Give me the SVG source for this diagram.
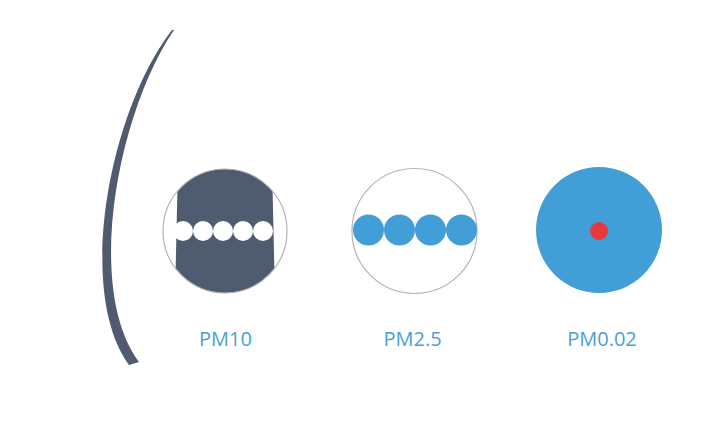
<svg xmlns="http://www.w3.org/2000/svg" width="720" height="423" viewBox="0 0 720 423">
<style>
.ring{fill:none;stroke:#b4b4b4;stroke-width:1.2}
.lbl{font-family:"Open Sans","Noto Sans",sans-serif;font-size:20px;fill:#4a9fd8;text-anchor:middle}
.dark{fill:#4f5b6e}
.blue{fill:#419ed6}
</style>
<defs>
<clipPath id="c1"><circle cx="225" cy="231" r="62"/></clipPath>
</defs>
<rect width="720" height="423" fill="#ffffff"/>
<g id="arc">
<path class="dark" d="M172,30 C110,110 75,290 129,365 L139,362 C84,288 118,112 174,30 Z"/>
</g>
<g id="pm10">
<polygon class="dark" clip-path="url(#c1)" points="178,165 272,165 275,297 175,297"/>
<circle class="ring" cx="225" cy="231" r="62"/>
<g fill="#ffffff">
<circle cx="183" cy="231" r="10"/>
<circle cx="203" cy="231" r="10"/>
<circle cx="223" cy="231" r="10"/>
<circle cx="243" cy="231" r="10"/>
<circle cx="263" cy="231" r="10"/>
</g>
<text class="lbl" x="225.5" y="346">PM10</text>
</g>
<g id="pm25">
<circle class="ring" cx="414.5" cy="231" r="62.5"/>
<circle class="blue" cx="368.5" cy="230" r="15.5"/>
<circle class="blue" cx="399.5" cy="230" r="15.5"/>
<circle class="blue" cx="430.5" cy="230" r="15.5"/>
<circle class="blue" cx="461.5" cy="230" r="15.5"/>
<text class="lbl" x="412.5" y="346">PM2.5</text>
</g>
<g id="pm002">
<circle class="blue" cx="599" cy="230" r="63"/>
<circle cx="599" cy="231" r="9" fill="#e8383d"/>
<text class="lbl" x="602" y="346">PM0.02</text>
</g>
<g id="connectors"/>
</svg>
